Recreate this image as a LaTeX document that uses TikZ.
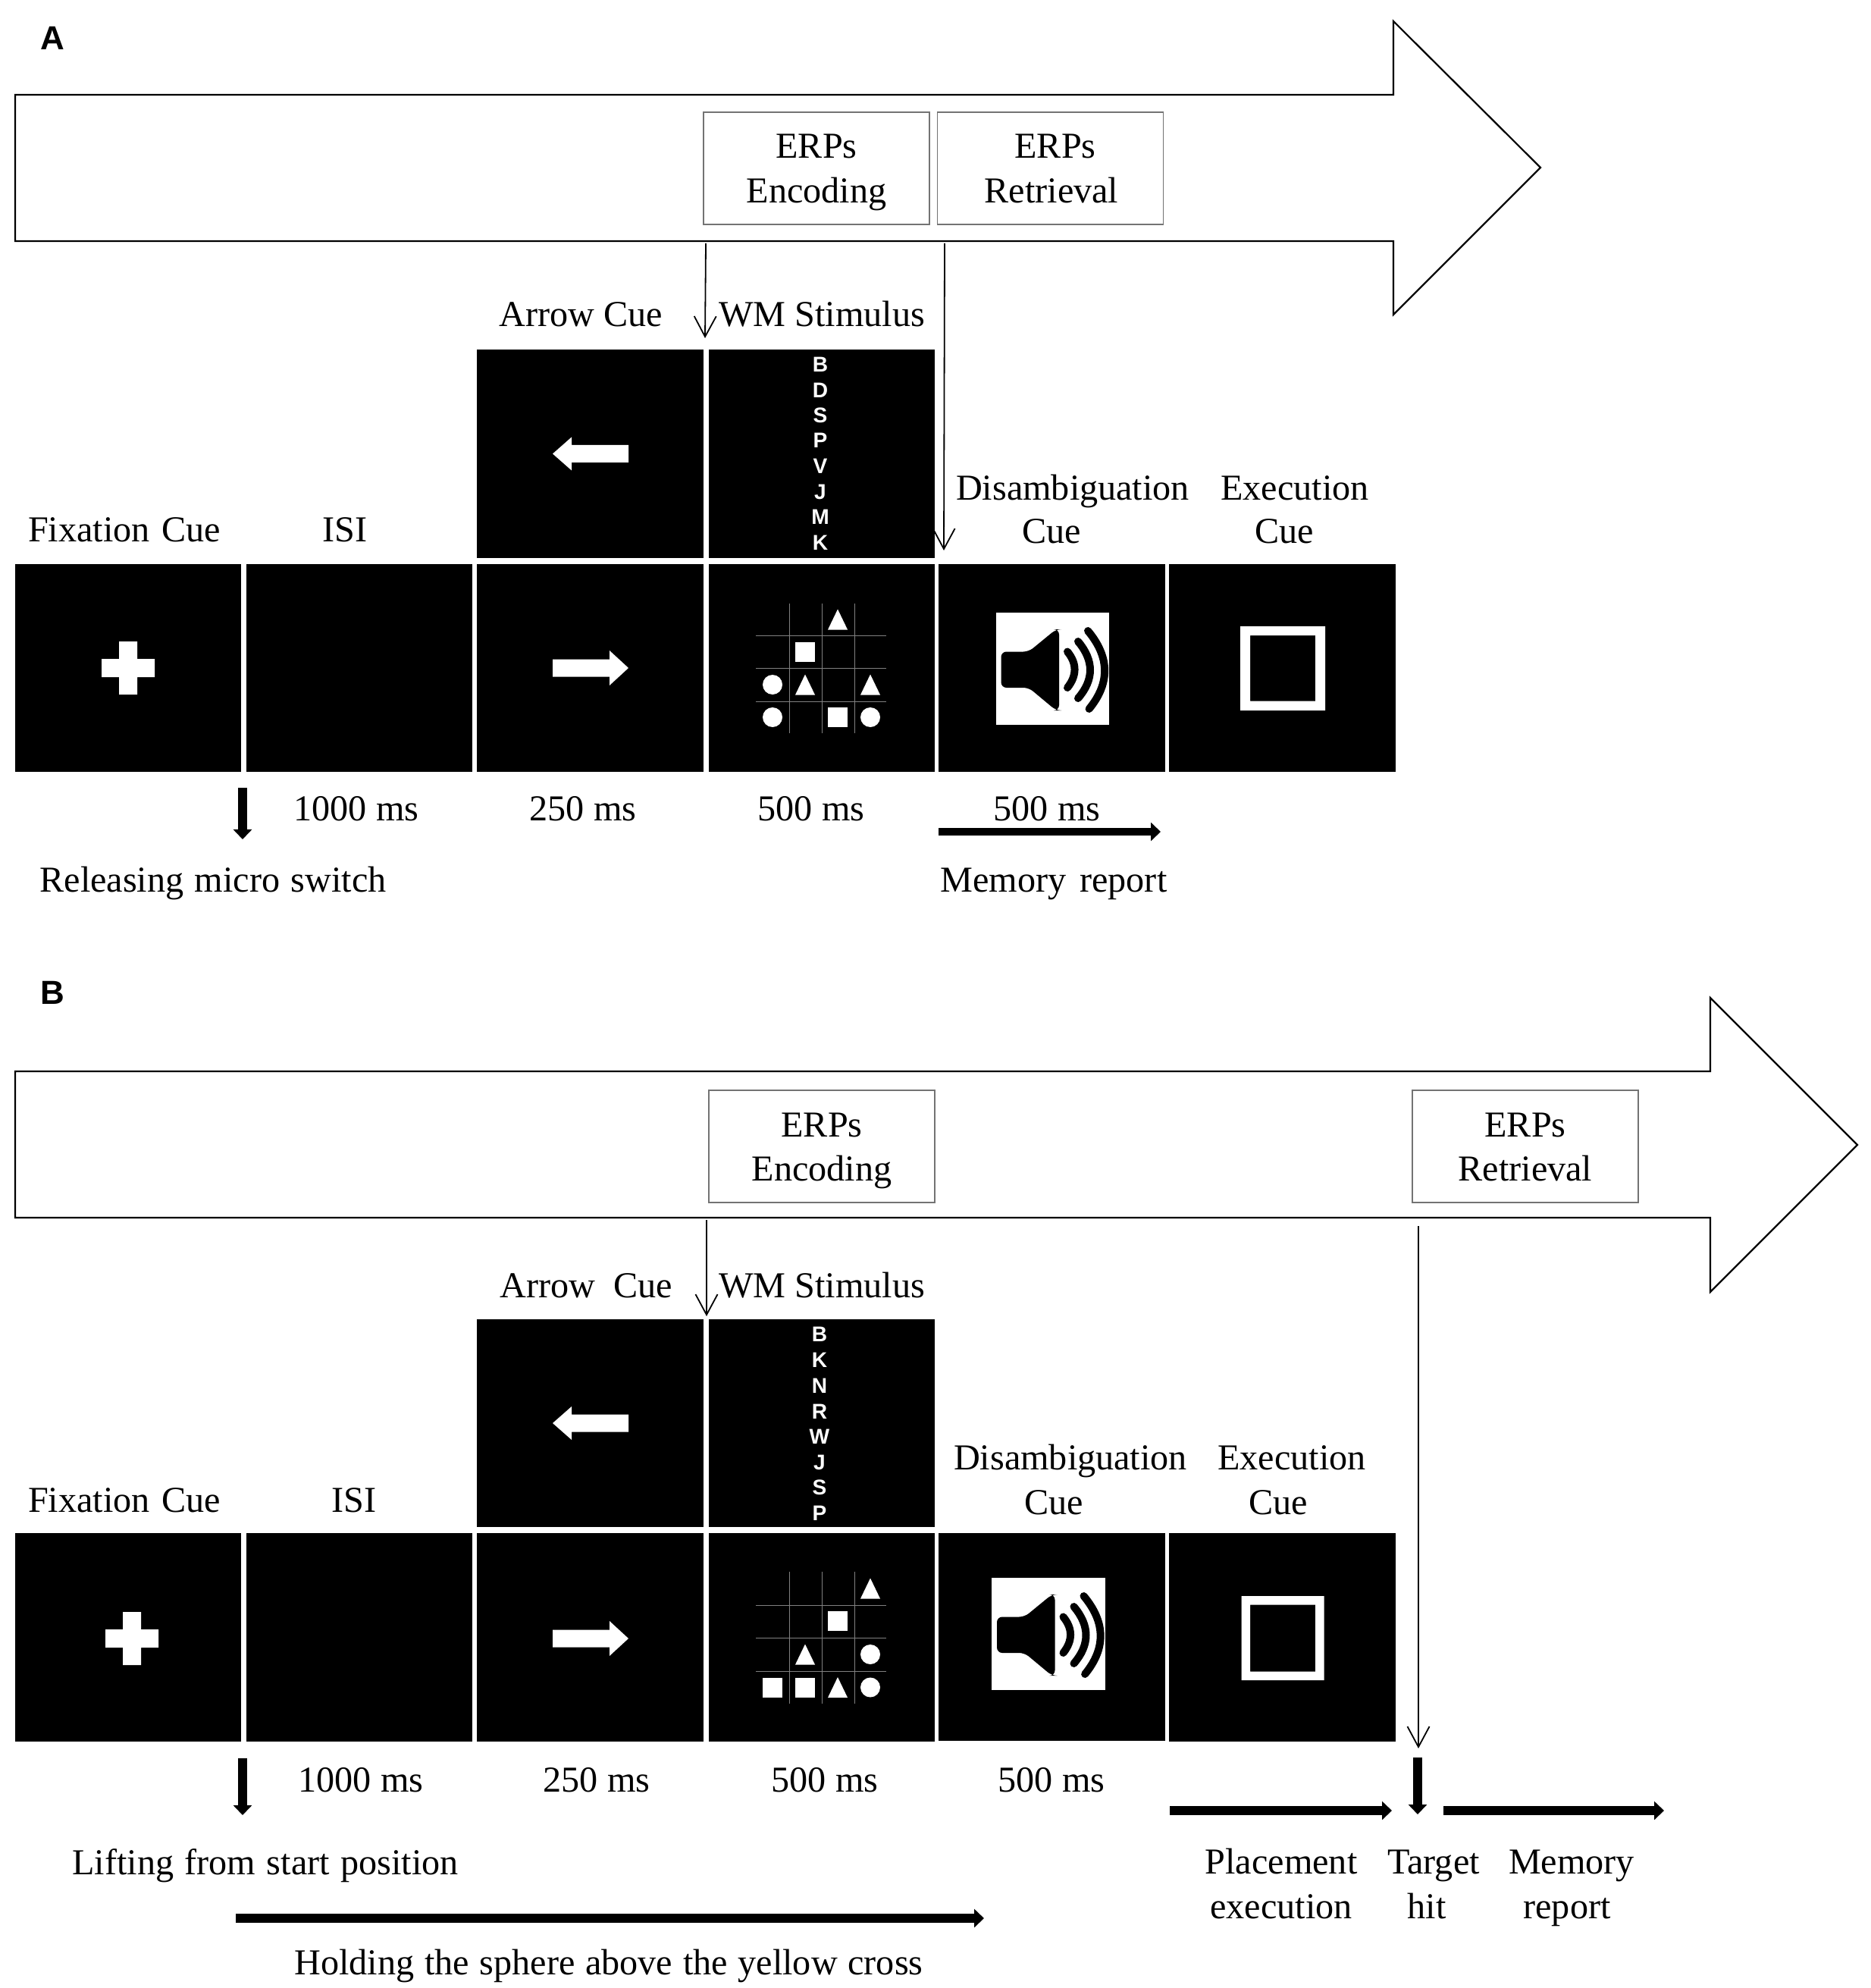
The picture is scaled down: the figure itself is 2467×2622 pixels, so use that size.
\documentclass[tikz,border=0pt]{standalone}
\usepackage{fontspec}
\setmainfont{Liberation Serif}
\newfontfamily\arialfont{Liberation Sans}
\usetikzlibrary{arrows.meta}
\newcommand{\erptext}[2]{\rule{0pt}{0.43cm}#1\\#2\rule[-0.11cm]{0pt}{0pt}}
\newcommand{\wgap}[1]{\hspace{#1em}}
\tikzset{
  panel/.style={rectangle,fill=black,draw=none,inner sep=0pt,minimum width=2.985cm,minimum height=2.745cm},
  lab/.style={inner sep=0pt,text height=0.31cm,text depth=0pt,font=\fontsize{13.7}{16.5}\selectfont},
  erpbox/.style={rectangle,draw=black!55,line width=0.015cm,fill=white,inner sep=0pt,minimum width=2.98cm,minimum height=1.48cm,align=center,font=\fontsize{13.7}{16.5}\selectfont},
  bigarrow/.style={draw=black,line width=0.022cm,fill=white,line join=miter},
  thin/.style={draw=black,line width=0.018cm,-{Straight Barb[length=0.27cm,width=0.29cm,line width=0.018cm]}},
  thick/.style={draw=black,line width=0.115cm,-{Triangle[length=0.13cm,width=0.24cm]}},
  letterlab/.style={inner sep=0pt,text=white,font=\arialfont\bfseries\fontsize{8}{9}\selectfont},
  panellab/.style={inner sep=0pt,font=\arialfont\bfseries\fontsize{12.5}{15}\selectfont},
  gridline/.style={draw=black!50,line width=0.01cm},
  tri/.pic={\fill[white] (-13,13.5) -- (0,-13.5) -- (13,13.5) -- cycle;},
  sq/.pic={\fill[white] (-13,-13) rectangle (13,13);},
  circ/.pic={\fill[white] (0,0) circle (13);},
  leftarr/.pic={\fill[white] (50,-11.5) -- (-25,-11.5) -- (-25,-22) -- (-50,0) -- (-25,22) -- (-25,11.5) -- (50,11.5) -- cycle;},
  rightarr/.pic={\fill[white] (-50,-11.5) -- (25,-11.5) -- (25,-23) -- (50,0) -- (25,23) -- (25,11.5) -- (-50,11.5) -- cycle;},
  cross/.pic={\fill[white] (-12,-35) rectangle (12,35) (-35,-12) rectangle (35,12);},
  speaker/.pic={
    \fill[white] (1313.5,808) rectangle (1463,956);
    \fill[black,rounded corners=2pt] (1320.5,859.5) -- (1357,859.5) -- (1393,830) -- (1397,830) -- (1397,937) -- (1393,937) -- (1357,907) -- (1320.5,907) -- cycle;
    \draw[black,line width=0.1cm,line cap=round] (1408,859.5) .. controls (1420.7,875) and (1420.7,891) .. (1408,907);
    \draw[black,line width=0.1cm,line cap=round] (1422,846) .. controls (1443.3,871.3) and (1443.3,896.3) .. (1422,921);
    \draw[black,line width=0.1cm,line cap=round] (1435,832) .. controls (1464,866.7) and (1464.5,901) .. (1436.6,935);
  }
}
\begin{document}
\begin{tikzpicture}[x=0.01cm,y=-0.01cm]
\useasboundingbox (0,0) rectangle (2467,2622);

% ============ Panel A
\node[panellab] (labA) at (69,50) {A};
\draw[bigarrow] (20,125) -- (1838,125) -- (1838,28) -- (2032,221) -- (1838,415) -- (1838,318) -- (20,318) -- cycle;
\node[erpbox] (encA) at (1077,222) {\erptext{ERPs}{Encoding}};
\node[erpbox] (retA) at (1385.5,222) {\erptext{\hspace*{0.13cm}ERPs}{\hspace*{0.03cm}Retrieval}};
\coordinate (encAs) at (931,321);
\coordinate (encAe) at (930,446);
\coordinate (retAs) at (1246,321);
\coordinate (retAe) at (1245,726);
\draw[thin] (encAs) -- (encAe);

\node[panel] (a1) at (169,881) {};
\node[panel] (a2) at (474,881) {};
\node[panel] (a3) at (778.5,881) {};
\node[panel] (a4) at (1084,881) {};
\node[panel] (a5) at (1387.5,881) {};
\node[panel] (a6) at (1691.5,881) {};
\node[panel] (a7) at (778.5,598.5) {};
\node[panel] (a8) at (1084,598.5) {};
\draw[thin] (retAs) -- (retAe);

\pic at (169,881) {cross};
\pic at (779,598.5) {leftarr};
\pic at (779,881) {rightarr};
\foreach \l/\y/\n in {B/481/1,D/514.5/2,S/548/3,P/581/4,V/615/5,J/649/6,M/682/7,K/716/8}
  \node[letterlab] (la\n) at (1082,\y) {\l};

\foreach \x in {1041,1084,1127} \draw[gridline] (\x,796) -- (\x,967);
\foreach \y in {838,881,925} \draw[gridline] (997,\y) -- (1169,\y);
\pic at (1105,817) {tri};
\pic at (1062,860) {sq};
\pic at (1019,903) {circ};
\pic at (1062,903) {tri};
\pic at (1148,903) {tri};
\pic at (1019,946) {circ};
\pic at (1105,946) {sq};
\pic at (1148,946) {circ};

\pic at (0,0) {speaker};
\fill[white,even odd rule] (1636,826) rectangle (1748,937) (1649,838) rectangle (1735,924.5);

\node[lab] (tA1) at (766,415) {Arrow Cue};
\node[lab] (tA2) at (1084,415) {WM Stimulus};
\node[lab] (tA3) at (164,699) {Fixation\wgap{0.32}Cue};
\node[lab] (tA4) at (455,699) {ISI};
\node[lab] (tA5) at (1415,644) {Disambiguation};
\node[lab] (tA6) at (1387,701) {Cue};
\node[lab] (tA7) at (1708,644) {Execution};
\node[lab] (tA8) at (1694,701) {Cue};
\node[lab] (tA9) at (470,1067) {1000 ms};
\node[lab] (tA10) at (769,1067) {250 ms};
\node[lab] (tA11) at (1070,1067) {500 ms};
\node[lab] (tA12) at (1381,1067) {500 ms};
\node[lab] (tA13) at (281,1161) {Releasing\wgap{0.3}micro\wgap{0.3}switch};
\node[lab] (tA14) at (1390,1161) {Memory\wgap{0.37}report};

\coordinate (dnAs) at (320,1039);
\coordinate (dnAe) at (320,1107);
\coordinate (memAs) at (1238,1097);
\coordinate (memAe) at (1531,1097);
\draw[thick] (dnAs) -- (dnAe);
\draw[thick,line width=0.105cm] (memAs) -- (memAe);

% ============ Panel B
\node[panellab] (labB) at (69,1309) {B};
\draw[bigarrow] (20,1413) -- (2256,1413) -- (2256,1316) -- (2450,1510) -- (2256,1704) -- (2256,1606) -- (20,1606) -- cycle;
\node[erpbox] (encB) at (1084,1512) {\erptext{ERPs}{Encoding}};
\node[erpbox] (retB) at (2012,1512) {\erptext{ERPs}{Retrieval}};
\coordinate (encBs) at (932,1609);
\coordinate (encBe) at (932,1736);
\coordinate (retBs) at (1871,1617);
\coordinate (retBe) at (1871,2306);
\draw[thin] (encBs) -- (encBe);

\node[panel] (b1) at (169,2159.5) {};
\node[panel] (b2) at (474,2159.5) {};
\node[panel] (b3) at (778.5,2159.5) {};
\node[panel] (b4) at (1084,2159.5) {};
\node[panel] (b5) at (1387.5,2159) {};
\node[panel] (b6) at (1691.5,2159.5) {};
\node[panel] (b7) at (778.5,1877) {};
\node[panel] (b8) at (1084,1877) {};
\draw[thin] (retBs) -- (retBe);

\pic at (174,2161) {cross};
\pic at (779,1877) {leftarr};
\pic at (779,2161) {rightarr};
\foreach \l/\y/\n in {B/1760/1,K/1794/2,N/1828/3,R/1862/4,W/1895/5,J/1929/6,S/1962/7,P/1996/8}
  \node[letterlab] (lb\n) at (1081,\y) {\l};

\foreach \x in {1041,1084,1127} \draw[gridline] (\x,2073) -- (\x,2247);
\foreach \y in {2117,2160.5,2204} \draw[gridline] (997,\y) -- (1169,\y);
\pic at (1148,2095) {tri};
\pic at (1105,2138) {sq};
\pic at (1062,2182) {tri};
\pic at (1148,2182) {circ};
\pic at (1019,2225.5) {sq};
\pic at (1062,2225.5) {sq};
\pic at (1105,2225.5) {tri};
\pic at (1148,2225.5) {circ};

\pic at (-5.5,1273) {speaker};
\fill[white,even odd rule] (1637.5,2105) rectangle (1746.5,2216) (1649,2116.5) rectangle (1735,2204.5);

\node[lab] (tB1) at (773,1696) {Arrow\ \ Cue};
\node[lab] (tB2) at (1084,1696) {WM Stimulus};
\node[lab] (tB3) at (164,1979) {Fixation\wgap{0.32}Cue};
\node[lab] (tB4) at (467,1979) {ISI};
\node[lab] (tB5) at (1412,1923) {Disambiguation};
\node[lab] (tB6) at (1390,1982) {Cue};
\node[lab] (tB7) at (1704,1923) {Execution};
\node[lab] (tB8) at (1686,1982) {Cue};
\node[lab] (tB9) at (476,2348) {1000 ms};
\node[lab] (tB10) at (787,2348) {250 ms};
\node[lab] (tB11) at (1088,2348) {500 ms};
\node[lab] (tB12) at (1387,2348) {500 ms};
\node[lab] (tB13) at (350,2457) {Lifting\wgap{0.3}from\wgap{0.3}start\wgap{0.3}position};
\node[lab] (tB14) at (803,2589) {Holding\wgap{0.285}the\wgap{0.285}sphere\wgap{0.285}above\wgap{0.285}the\wgap{0.285}yellow\wgap{0.285}cross};
\node[lab] (tB15) at (1690,2456) {Placement};
\node[lab] (tB16) at (1690,2514.5) {execution};
\node[lab] (tB17) at (1891,2456) {Target};
\node[lab] (tB18) at (1882,2514.5) {hit};
\node[lab] (tB19) at (2073,2456) {Memory};
\node[lab] (tB20) at (2067,2514.5) {report};

\coordinate (dnBs) at (320,2319);
\coordinate (dnBe) at (320,2394);
\coordinate (holdBs) at (311,2530);
\coordinate (holdBe) at (1298,2530);
\coordinate (placeBs) at (1543,2388);
\coordinate (placeBe) at (1836,2388);
\coordinate (hitBs) at (1870,2318);
\coordinate (hitBe) at (1870,2393);
\coordinate (memBs) at (1904,2388);
\coordinate (memBe) at (2195,2388);
\draw[thick] (dnBs) -- (dnBe);
\draw[thick] (holdBs) -- (holdBe);
\draw[thick] (placeBs) -- (placeBe);
\draw[thick] (hitBs) -- (hitBe);
\draw[thick] (memBs) -- (memBe);
\end{tikzpicture}
\end{document}
